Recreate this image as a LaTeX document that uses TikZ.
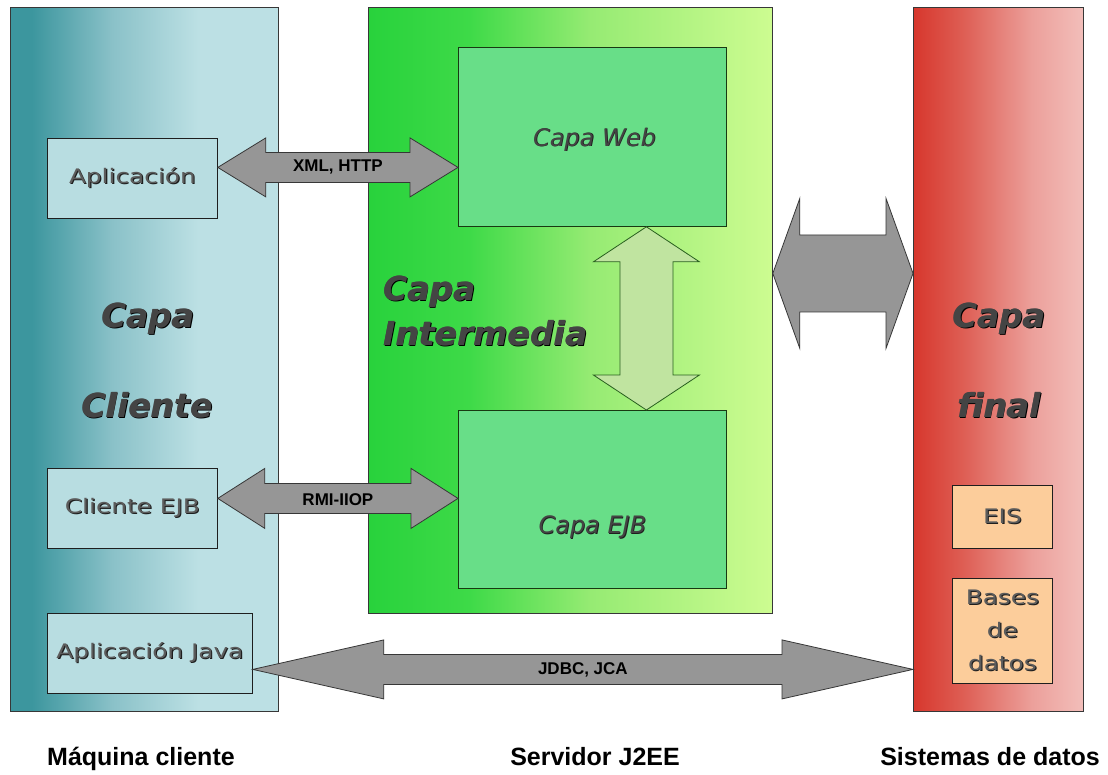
\documentclass[tikz,border=0pt]{standalone}
\usepackage{fontspec}
\usepackage{graphicx}
\usetikzlibrary{calc}
\newfontfamily\dv{DejaVu Sans}
\newfontfamily\lib{Liberation Sans}
\newcommand\fs[2]{\fontsize{#1}{#2}\selectfont}
\newcommand\emb[3]{\leavevmode\rlap{\kern0.9pt\raisebox{-0.9pt}{\textcolor{#2}{#1}}}\textcolor{#3}{#1}}
\newcommand\embb[3]{\leavevmode\rlap{\kern1.2pt\raisebox{-1.2pt}{\textcolor{#2}{#1}}}\rlap{\kern0.6pt{\textcolor{#3}{#1}}}\textcolor{#3}{#1}}
\newcommand\wider[1]{\scalebox{1.24}[1]{#1}}

\definecolor{cA}{RGB}{60,150,158}
\definecolor{cB}{RGB}{138,193,200}
\definecolor{cD}{RGB}{188,224,228}
\definecolor{gA}{RGB}{40,210,60}
\definecolor{gB}{RGB}{62,218,72}
\definecolor{gC}{RGB}{150,235,115}
\definecolor{gD}{RGB}{205,252,145}
\definecolor{rA}{RGB}{215,55,45}
\definecolor{rB}{RGB}{222,95,85}
\definecolor{rC}{RGB}{236,160,155}
\definecolor{rD}{RGB}{242,190,186}
\definecolor{boxcl}{RGB}{184,221,225}
\definecolor{boxgr}{RGB}{104,222,136}
\definecolor{boxpe}{RGB}{252,205,155}
\definecolor{arrgray}{RGB}{150,150,150}
\definecolor{arrline}{RGB}{55,55,55}
\definecolor{varfill}{RGB}{192,228,160}
\definecolor{varline}{RGB}{40,95,30}
\definecolor{txtg}{RGB}{92,92,92}
\definecolor{txtd}{RGB}{30,30,30}
\definecolor{bigt}{RGB}{68,68,68}

\pgfdeclarehorizontalshading{clientsh}{100bp}{color(0bp)=(cA); color(25bp)=(cA); color(29bp)=(cA); color(44bp)=(cB); color(60bp)=(cD); color(100bp)=(cD)}
\pgfdeclarehorizontalshading{midsh}{100bp}{color(0bp)=(gA); color(25bp)=(gA); color(37.5bp)=(gB); color(52.5bp)=(gC); color(75bp)=(gD); color(100bp)=(gD)}
\pgfdeclarehorizontalshading{finalsh}{100bp}{color(0bp)=(rA); color(25bp)=(rA); color(40bp)=(rB); color(60bp)=(rC); color(75bp)=(rD); color(100bp)=(rD)}

\newcommand\hdarrow[6]{%
  \draw[#1] (#2) -- ($(#2)+(#4,#5)$) -- ($(#2)+(#4,#6)$) -- ($(#3)+(-#4,#6)$) -- ($(#3)+(-#4,#5)$) -- (#3)
    -- ($(#3)+(-#4,-#5)$) -- ($(#3)+(-#4,-#6)$) -- ($(#2)+(#4,-#6)$) -- ($(#2)+(#4,-#5)$) -- cycle;}
\newcommand\vdarrow[6]{%
  \draw[#1] (#2) -- ($(#2)+(#5,#4)$) -- ($(#2)+(#6,#4)$) -- ($(#3)+(#6,-#4)$) -- ($(#3)+(#5,-#4)$) -- (#3)
    -- ($(#3)+(-#5,-#4)$) -- ($(#3)+(-#6,-#4)$) -- ($(#2)+(-#6,#4)$) -- ($(#2)+(-#5,#4)$) -- cycle;}

\tikzset{
  panelbox/.style={draw=arrline, line width=0.8pt, shade, inner sep=0pt, anchor=north west},
  clbox/.style={draw=txtd, line width=0.8pt, fill=boxcl, inner sep=0pt, anchor=north west},
  grbox/.style={draw=varline!60!black, line width=0.8pt, fill=boxgr, inner sep=0pt, anchor=north west},
  pebox/.style={draw=txtd, line width=0.8pt, fill=boxpe, inner sep=0pt, anchor=north west},
  garrow/.style={fill=arrgray, draw=arrline, line width=0.8pt, line join=miter},
  varrow/.style={fill=varfill, draw=varline, line width=0.8pt, line join=miter},
  boxtxt/.style={font=\dv\fs{20}{33}, align=center, inner sep=0pt},
  bigtxt/.style={font=\dv\bfseries\itshape\fs{33}{33}, inner sep=0pt},
  arrlbl/.style={font=\lib\bfseries\fs{17}{17}, text=black, inner sep=0pt},
  footlbl/.style={font=\lib\bfseries\fs{25}{25}, text=black, inner sep=0pt},
}

\begin{document}
\begin{tikzpicture}[x=1pt,y=-1pt]
\useasboundingbox[fill=white] (0,0) rectangle (1108,774);

% panels
\node[panelbox, shading=clientsh, minimum width=268pt, minimum height=704pt] (client) at (10,7) {};
\node[panelbox, shading=midsh, minimum width=404pt, minimum height=606pt] (mid) at (368,7) {};
\node[panelbox, shading=finalsh, minimum width=170pt, minimum height=704pt] (final) at (913,7) {};

% client boxes
\node[clbox, minimum width=170pt, minimum height=80pt] (app) at (47,138) {};
\node[clbox, minimum width=170pt, minimum height=80pt] (cejb) at (47,468) {};
\node[clbox, minimum width=205pt, minimum height=80pt] (appjava) at (47,613) {};
\node[boxtxt] (apptxt) at (app.center) {\wider{\emb{Aplicación}{txtd}{txtg}}};
\node[boxtxt] (cejbtxt) at (cejb.center) {\wider{\emb{Cliente EJB}{txtd}{txtg}}};
\node[boxtxt] (appjavatxt) at (appjava.center) {\wider{\emb{Aplicación Java}{txtd}{txtg}}};

% middle boxes
\node[grbox, minimum width=268pt, minimum height=179pt] (web) at (458,47) {};
\node[grbox, minimum width=268pt, minimum height=178pt] (ejb) at (458,410) {};
\node[inner sep=0pt, font=\dv\itshape\fs{24}{24}] (webtxt) at ($(web.center)+(2,3)$) {\emb{Capa Web}{txtd}{bigt}};
\node[inner sep=0pt, font=\dv\itshape\fs{24}{24}] (ejbtxt) at ($(ejb.center)+(0,28)$) {\emb{Capa EJB}{txtd}{bigt}};

% final boxes
\node[pebox, minimum width=100pt, minimum height=63pt] (eis) at (952,485) {};
\node[pebox, minimum width=100pt, minimum height=105pt] (bd) at (952,578) {};
\node[boxtxt] (eistxt) at (eis.center) {\wider{\emb{EIS}{txtd}{txtg}}};
\node[boxtxt] (bdtxt) at (bd.center) {\wider{\emb{Bases}{txtd}{txtg}}\\\wider{\emb{de}{txtd}{txtg}}\\\wider{\emb{datos}{txtd}{txtg}}};

% big layer labels
\node[bigtxt, anchor=base] (cl1) at (148,327) {\embb{Capa}{black}{bigt}};
\node[bigtxt, anchor=base] (cl2) at (147,417) {\embb{Cliente}{black}{bigt}};
\node[bigtxt, anchor=base west] (ml1) at (383,300) {\embb{Capa}{black}{bigt}};
\node[bigtxt, anchor=base west] (ml2) at (383,345) {\embb{Intermedia}{black}{bigt}};
\node[bigtxt, anchor=base] (fl1) at (999,327) {\embb{Capa}{black}{bigt}};
\node[bigtxt, anchor=base] (fl2) at (999,417) {\embb{final}{black}{bigt}};

% connector end points
\coordinate (xL) at ($(app.east)+(0,-11)$);
\coordinate (xR) at (xL -| web.west);
\coordinate (rL) at ($(cejb.east)+(0,-10)$);
\coordinate (rR) at (rL -| ejb.west);
\coordinate (jL) at ($(appjava.east)+(0,16)$);
\coordinate (jR) at (jL -| final.west);
\coordinate (bL) at ($(mid.east)+(0,-37)$);
\coordinate (bR) at (bL -| final.west);
\coordinate (vT) at ($(web.south)+(54,0)$);
\coordinate (vB) at (vT |- ejb.north);

% arrows
\hdarrow{garrow}{xL}{xR}{48}{29.5}{15}
\hdarrow{garrow}{rL}{rR}{47}{30}{15}
\hdarrow{garrow}{jL}{jR}{131}{29.5}{15}
\hdarrow{garrow}{bL}{bR}{27}{75}{38.5}
\vdarrow{varrow}{vT}{vB}{35}{53}{26.5}

% arrow labels
\node[arrlbl] (xlbl) at ($(xL)!0.5!(xR)$) {XML, HTTP};
\node[arrlbl] (rlbl) at ($(rL)!0.5!(rR)+(0,1)$) {RMI-IIOP};
\node[arrlbl] (jlbl) at ($(jL)!0.5!(jR)$) {JDBC, JCA};

% footer labels
\node[footlbl, anchor=base west] (f1) at (47,765) {Máquina cliente};
\node[footlbl, anchor=base east] (f2) at (680,765) {Servidor J2EE};
\node[footlbl, anchor=base east] (f3) at (1100,765) {Sistemas de datos};
\end{tikzpicture}
\end{document}
